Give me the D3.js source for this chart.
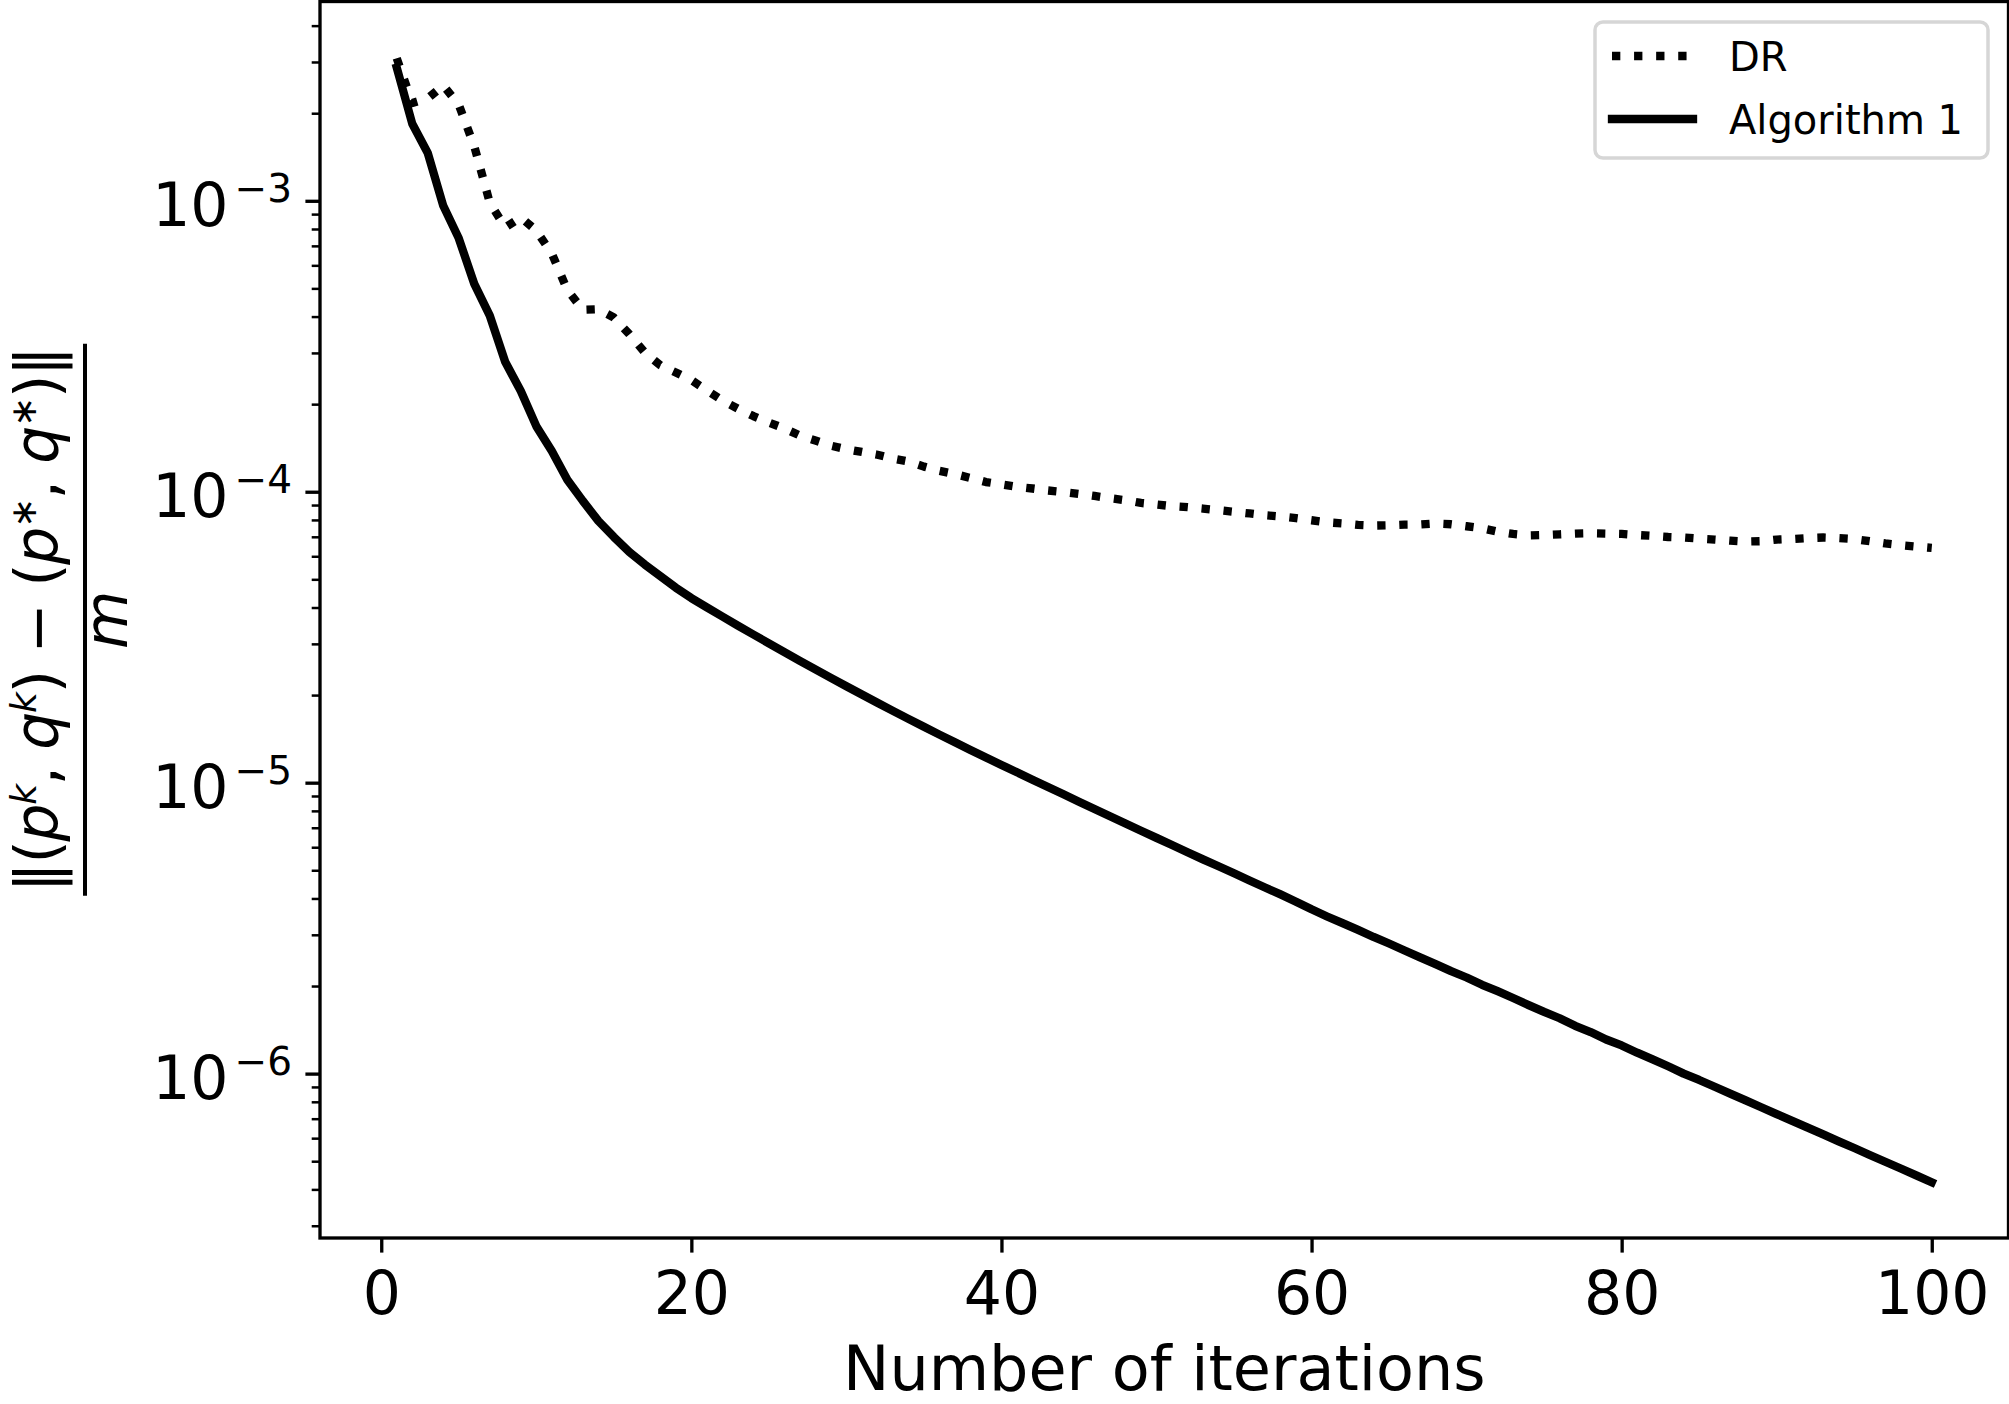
<!DOCTYPE html>
<html>
<head>
<meta charset="utf-8">
<script src="https://d3js.org/d3.v7.min.js"></script>
<style>
  body { margin: 0; background: #fff; }
  text { font-family: "DejaVu Sans", sans-serif; fill: #000; }
</style>
</head>
<body>
<div class="container"></div>
<script>
const iterations = [
  1, 2, 3, 4, 5, 6, 7, 8, 9, 10, 11, 12, 13, 14, 15, 16, 17, 18, 19, 20,
  21, 22, 23, 24, 25, 26, 27, 28, 29, 30, 31, 32, 33, 34, 35, 36, 37, 38, 39, 40,
  41, 42, 43, 44, 45, 46, 47, 48, 49, 50, 51, 52, 53, 54, 55, 56, 57, 58, 59, 60,
  61, 62, 63, 64, 65, 66, 67, 68, 69, 70, 71, 72, 73, 74, 75, 76, 77, 78, 79, 80,
  81, 82, 83, 84, 85, 86, 87, 88, 89, 90, 91, 92, 93, 94, 95, 96, 97, 98, 99, 100
];

const drValues = [
  3.09e-3, 2.17e-3, 2.25e-3, 2.49e-3, 2.14e-3, 1.54e-3, 9.85e-4, 8.10e-4, 8.77e-4, 7.90e-4,
  6.59e-4, 4.94e-4, 4.22e-4, 4.24e-4, 3.97e-4, 3.48e-4, 3.01e-4, 2.72e-4, 2.57e-4, 2.42e-4,
  2.23e-4, 2.06e-4, 1.93e-4, 1.82e-4, 1.73e-4, 1.65e-4, 1.56e-4, 1.50e-4, 1.44e-4, 1.40e-4,
  1.37e-4, 1.34e-4, 1.30e-4, 1.27e-4, 1.22e-4, 1.18e-4, 1.15e-4, 1.115e-4, 1.08e-4, 1.06e-4,
  1.04e-4, 1.026e-4, 1.01e-4, 9.98e-5, 9.83e-5, 9.67e-5, 9.50e-5, 9.35e-5, 9.15e-5, 9.04e-5,
  8.92e-5, 8.85e-5, 8.75e-5, 8.64e-5, 8.53e-5, 8.42e-5, 8.30e-5, 8.22e-5, 8.11e-5, 7.98e-5,
  7.85e-5, 7.78e-5, 7.69e-5, 7.65e-5, 7.67e-5, 7.71e-5, 7.72e-5, 7.78e-5, 7.73e-5, 7.61e-5,
  7.49e-5, 7.29e-5, 7.16e-5, 7.08e-5, 7.10e-5, 7.14e-5, 7.18e-5, 7.20e-5, 7.18e-5, 7.16e-5,
  7.10e-5, 7.05e-5, 6.99e-5, 6.96e-5, 6.90e-5, 6.85e-5, 6.79e-5, 6.74e-5, 6.76e-5, 6.85e-5,
  6.88e-5, 6.93e-5, 6.96e-5, 6.93e-5, 6.88e-5, 6.76e-5, 6.64e-5, 6.55e-5, 6.48e-5, 6.41e-5
];

const alg1Values = [
  2.87e-3, 1.84e-3, 1.46e-3, 9.61e-4, 7.43e-4, 5.18e-4, 4.03e-4, 2.79e-4, 2.22e-4, 1.68e-4,
  1.38e-4, 1.10e-4, 9.30e-5, 7.94e-5, 6.99e-5, 6.21e-5, 5.62e-5, 5.13e-5, 4.68e-5, 4.31e-5,
  4.005e-5, 3.725e-5, 3.467e-5, 3.231e-5, 3.012e-5, 2.810e-5, 2.623e-5, 2.451e-5, 2.292e-5, 2.145e-5,
  2.009e-5, 1.883e-5, 1.766e-5, 1.657e-5, 1.557e-5, 1.463e-5, 1.377e-5, 1.296e-5, 1.221e-5, 1.151e-5,
  1.086e-5, 1.024e-5, 9.66e-6, 9.12e-6, 8.60e-6, 8.12e-6, 7.67e-6, 7.24e-6, 6.84e-6, 6.46e-6,
  6.11e-6, 5.77e-6, 5.45e-6, 5.16e-6, 4.88e-6, 4.61e-6, 4.36e-6, 4.13e-6, 3.90e-6, 3.67e-6,
  3.47e-6, 3.29e-6, 3.12e-6, 2.95e-6, 2.80e-6, 2.65e-6, 2.51e-6, 2.38e-6, 2.25e-6, 2.14e-6,
  2.02e-6, 1.92e-6, 1.82e-6, 1.72e-6, 1.63e-6, 1.55e-6, 1.46e-6, 1.39e-6, 1.31e-6, 1.25e-6,
  1.18e-6, 1.12e-6, 1.06e-6, 1.00e-6, 9.51e-7, 9.01e-7, 8.54e-7, 8.09e-7, 7.66e-7, 7.26e-7,
  6.88e-7, 6.52e-7, 6.18e-7, 5.85e-7, 5.55e-7, 5.25e-7, 4.98e-7, 4.72e-7, 4.47e-7, 4.23e-7
];

const seriesNames = ["DR", "Algorithm 1"];
const xTicks = [0, 20, 40, 60, 80, 100];
const yTicks = [1e-3, 1e-4, 1e-5, 1e-6];
const yTickExponents = ["\u22123", "\u22124", "\u22125", "\u22126"];

const WIDTH = 2009;
const HEIGHT = 1404;
const LEFT = 320, RIGHT = 2008.5, TOP = 1.5, BOTTOM = 1238;
const LW = 8.33;

var svg = d3.select('.container').append('svg')
    .attr('width', WIDTH)
    .attr('height', HEIGHT)
    .style('display', 'block');

svg.append('rect').attr('width', WIDTH).attr('height', HEIGHT).attr('fill', '#fff');

var xScale = d3.scaleLinear()
    .domain([-3.95, 104.95])
    .range([LEFT, RIGHT]);

var yScale = d3.scaleLog()
    .domain([Math.pow(10, -6.565), Math.pow(10, -2.315)])
    .range([BOTTOM, TOP]);

// minor ticks on the log axis
var minorTicks = [];
[-7, -6, -5, -4, -3, -2].forEach(function (e) {
    for (var m = 2; m <= 9; m++) {
        var v = m * Math.pow(10, e);
        if (v > yScale.domain()[0] && v < yScale.domain()[1]) minorTicks.push(v);
    }
});

var line = d3.line()
    .x(function (d, i) { return xScale(iterations[i]); })
    .y(function (d) { return yScale(d); });

svg.append('clipPath').attr('id', 'plotclip')
    .append('rect')
    .attr('x', LEFT).attr('y', TOP)
    .attr('width', RIGHT - LEFT).attr('height', BOTTOM - TOP);

var plot = svg.append('g').attr('clip-path', 'url(#plotclip)');

plot.append('path')
    .attr('d', line(drValues))
    .attr('fill', 'none')
    .attr('stroke', '#000')
    .attr('stroke-width', LW)
    .attr('stroke-dasharray', LW + ',' + (LW * 1.65))
    .attr('stroke-linecap', 'butt')
    .attr('stroke-linejoin', 'round');

plot.append('path')
    .attr('d', line(alg1Values))
    .attr('fill', 'none')
    .attr('stroke', '#000')
    .attr('stroke-width', LW)
    .attr('stroke-linecap', 'square')
    .attr('stroke-linejoin', 'round');

// x axis
var xAxis = svg.append('g')
    .attr('transform', 'translate(0,' + BOTTOM + ')')
    .call(d3.axisBottom(xScale).tickValues(xTicks).tickSize(14.6).tickFormat(d3.format('d')));
xAxis.select('.domain').remove();
xAxis.selectAll('line').attr('stroke', '#000').attr('stroke-width', 3.33);
xAxis.selectAll('text')
    .attr('y', 76).attr('dy', null)
    .style('font-size', '60px')
    .style('font-family', '"DejaVu Sans", sans-serif');

// y axis, minor then major
var yMinor = svg.append('g')
    .attr('transform', 'translate(' + LEFT + ',0)')
    .call(d3.axisLeft(yScale).tickValues(minorTicks).tickSize(8.3).tickFormat(''));
yMinor.select('.domain').remove();
yMinor.selectAll('line').attr('stroke', '#000').attr('stroke-width', 2.5);

var yAxis = svg.append('g')
    .attr('transform', 'translate(' + LEFT + ',0)')
    .call(d3.axisLeft(yScale).tickValues(yTicks).tickSize(14.6).tickFormat(function () { return '10'; }));
yAxis.select('.domain').remove();
yAxis.selectAll('line').attr('stroke', '#000').attr('stroke-width', 3.33);
yAxis.selectAll('text')
    .attr('x', -28).attr('y', 25).attr('dy', null)
    .attr('text-anchor', 'end')
    .style('font-size', '60px')
    .style('font-family', '"DejaVu Sans", sans-serif')
    .each(function (d, i) {
        d3.select(this).append('tspan')
            .attr('dy', -24)
            .attr('dx', 6)
            .style('font-size', '39px')
            .text(yTickExponents[i]);
    });

// frame
svg.append('rect')
    .attr('x', LEFT).attr('y', TOP)
    .attr('width', RIGHT - LEFT).attr('height', BOTTOM - TOP)
    .attr('fill', 'none')
    .attr('stroke', '#000')
    .attr('stroke-width', 3.33);

// x label
svg.append('text')
    .attr('x', (LEFT + RIGHT) / 2)
    .attr('y', 1390)
    .attr('text-anchor', 'middle')
    .style('font-size', '62px')
    .text('Number of iterations');

// y label: fraction, rotated
var yl = svg.append('g')
    .attr('transform', 'translate(0,' + ((TOP + BOTTOM) / 2) + ') rotate(-90)');

var num = yl.append('text')
    .attr('x', 0).attr('y', 58)
    .attr('text-anchor', 'middle')
    .style('font-size', '60px');

var pieces = [
    ['\u2016(', 0, false], ['p', 0, true], ['k', 1, true], [', ', 0, false],
    ['q', 0, true], ['k', 1, true], [') \u2212 (', 0, false],
    ['p', 0, true], ['\u2217', 1, false], [', ', 0, false],
    ['q', 0, true], ['\u2217', 1, false], [')\u2016', 0, false]
];
var lastSup = 0;
pieces.forEach(function (p) {
    var t = num.append('tspan').text(p[0]);
    if (p[2]) t.style('font-style', 'italic');
    if (p[1] === 1) {
        t.style('font-size', '36px').attr('dy', lastSup === 1 ? 0 : -22);
    } else if (lastSup === 1) {
        t.attr('dy', 22);
    }
    lastSup = p[1];
});

var target = 545;
var w = num.node().getComputedTextLength();
var nChars = num.text().length;
num.style('letter-spacing', ((target - w) / nChars) + 'px');

yl.append('line')
    .attr('x1', -276).attr('x2', 276)
    .attr('y1', 85).attr('y2', 85)
    .attr('stroke', '#000')
    .attr('stroke-width', 4);

yl.append('text')
    .attr('x', 0).attr('y', 127)
    .attr('text-anchor', 'middle')
    .style('font-size', '60px')
    .style('font-style', 'italic')
    .text('m');

// legend
var legend = svg.append('g');
legend.append('rect')
    .attr('x', 1595).attr('y', 22)
    .attr('width', 393).attr('height', 136)
    .attr('rx', 8).attr('ry', 8)
    .attr('fill', '#fff').attr('fill-opacity', 0.8)
    .attr('stroke', '#cccccc').attr('stroke-opacity', 0.8)
    .attr('stroke-width', 3.5);

var legendRows = [
    { name: seriesNames[0], y: 56, dash: LW + ',' + (LW * 1.65), cap: 'butt' },
    { name: seriesNames[1], y: 119, dash: null, cap: 'square' }
];
legendRows.forEach(function (r) {
    legend.append('line')
        .attr('x1', 1612).attr('x2', 1693)
        .attr('y1', r.y).attr('y2', r.y)
        .attr('stroke', '#000')
        .attr('stroke-width', LW)
        .attr('stroke-dasharray', r.dash)
        .attr('stroke-linecap', r.cap);
    legend.append('text')
        .attr('x', 1729).attr('y', r.y + 15)
        .style('font-size', '40px')
        .text(r.name);
});
</script>
</body>
</html>
